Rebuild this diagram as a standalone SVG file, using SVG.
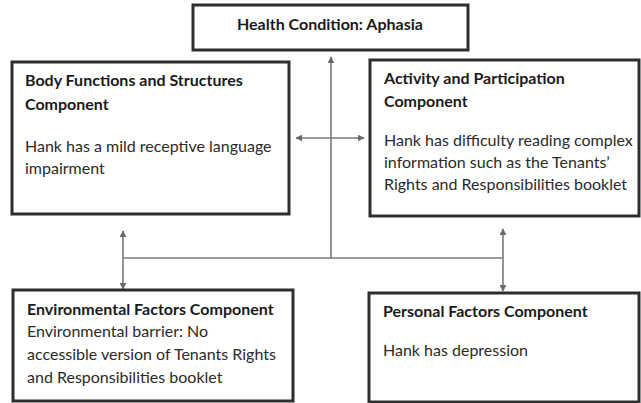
<svg xmlns="http://www.w3.org/2000/svg" width="641" height="403" viewBox="0 0 641 403">
<defs>
<style>
.box{fill:#fff;stroke:#2e2e2e;stroke-width:3}
.t{font-family:Lato,"Open Sans","Liberation Sans",sans-serif;font-size:16px;fill:#2a2a2a}
.b{font-weight:bold;fill:#1a1a1a}
.c{stroke:#7a7a7a;stroke-width:1.6;fill:none}
</style>
<marker id="ah" viewBox="0 0 10 10" refX="9" refY="5" markerWidth="7" markerHeight="7" orient="auto-start-reverse" markerUnits="userSpaceOnUse">
<path d="M0,0 L10,5 L0,10 z" fill="#6a6a6a"/>
</marker>
</defs>
<rect width="641" height="403" fill="#fff"/>
<g id="connectors">
<line class="c" x1="331" y1="258" x2="331" y2="57" marker-end="url(#ah)"/>
<line class="c" x1="296" y1="138" x2="364" y2="138" marker-start="url(#ah)" marker-end="url(#ah)"/>
<line class="c" x1="123" y1="258" x2="503" y2="258"/>
<line class="c" x1="123" y1="231" x2="123" y2="289" marker-start="url(#ah)" marker-end="url(#ah)"/>
<line class="c" x1="503" y1="229" x2="503" y2="291" marker-start="url(#ah)" marker-end="url(#ah)"/>
</g>
<g id="health">
<rect class="box" x="193" y="5" width="275" height="45"/>
<text class="t b" x="237" y="30">Health Condition: Aphasia</text>
</g>
<g id="body">
<rect class="box" x="12" y="62" width="277" height="152"/>
<text class="t b" x="25" y="86">Body Functions and Structures</text>
<text class="t b" x="25" y="110">Component</text>
<text class="t" x="25" y="152">Hank has a mild receptive language</text>
<text class="t" x="25" y="174">impairment</text>
</g>
<g id="activity">
<rect class="box" x="370" y="60" width="269" height="156"/>
<text class="t b" x="384" y="84">Activity and Participation</text>
<text class="t b" x="384" y="107">Component</text>
<text class="t" x="384" y="146">Hank has difficulty reading complex</text>
<text class="t" x="384" y="168">information such as the Tenants’</text>
<text class="t" x="384" y="190">Rights and Responsibilities booklet</text>
</g>
<g id="environmental">
<rect class="box" x="13" y="290" width="280" height="111"/>
<text class="t b" x="27" y="315">Environmental Factors Component</text>
<text class="t" x="27" y="337">Environmental barrier: No</text>
<text class="t" x="27" y="360">accessible version of Tenants Rights</text>
<text class="t" x="27" y="383">and Responsibilities booklet</text>
</g>
<g id="personal">
<rect class="box" x="369" y="293" width="270" height="109"/>
<text class="t b" x="383" y="317">Personal Factors Component</text>
<text class="t" x="383" y="356">Hank has depression</text>
</g>
</svg>
